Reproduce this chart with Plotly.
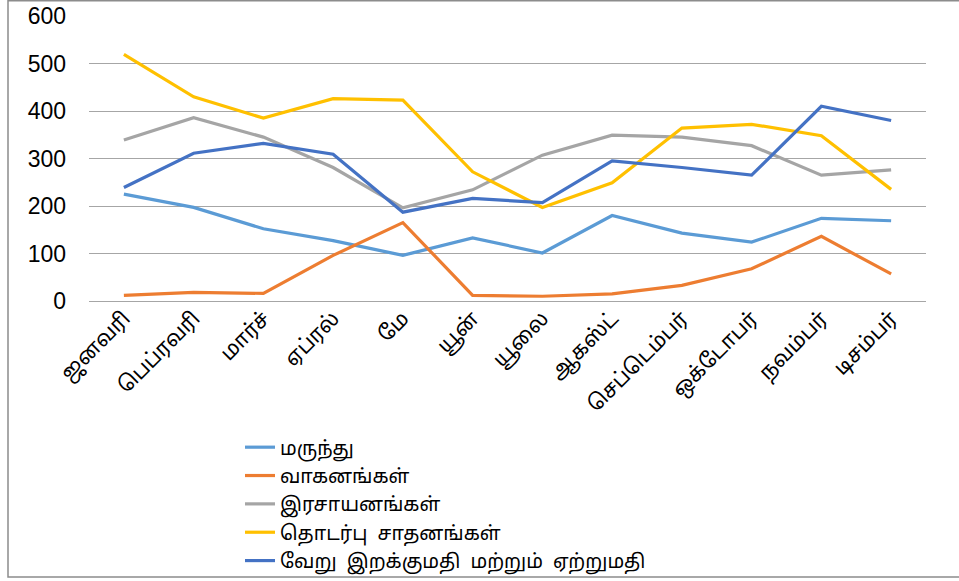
import plotly.graph_objects as go

months = ["ஜனவரி", "பெப்ரவரி", "மார்ச்", "ஏப்ரல்", "மே", "யூன்", "யூலை",
          "ஆகஸ்ட்", "செப்டெம்பர்", "ஒக்டோபர்", "நவம்பர்", "டிசம்பர்"]

marunthu = [225, 197, 152, 127, 96, 133, 101, 180, 143, 124, 174, 169]
vahanangal = [12, 18, 16, 96, 165, 12, 10, 15, 33, 68, 136, 57]
irasayanangal = [339, 386, 345, 281, 196, 234, 307, 349, 345, 327, 265, 276]
thodarpu = [519, 430, 385, 426, 423, 272, 197, 249, 364, 372, 348, 235]
veru = [239, 311, 332, 309, 187, 216, 207, 295, 281, 265, 410, 380]

series = [
    ("மருந்து", marunthu, "#5B9BD5"),
    ("வாகனங்கள்", vahanangal, "#ED7D31"),
    ("இரசாயனங்கள்", irasayanangal, "#A5A5A5"),
    ("தொடர்பு  சாதனங்கள்", thodarpu, "#FFC000"),
    ("வேறு  இறக்குமதி  மற்றும்  ஏற்றுமதி", veru, "#4472C4"),
]

FONT = "Noto Sans Tamil, Latha, Liberation Sans, Arial, sans-serif"

fig = go.Figure()
for name, vals, color in series:
    fig.add_trace(go.Scatter(
        x=months, y=vals, name=name, mode="lines",
        line=dict(color=color, width=3.2),
    ))

W, H = 959, 581
L, R, T, B = 89, 33, 16, 280
pw, ph = W - L - R, H - T - B

def px_to_paper_x(px):
    return (px - L) / pw

def px_to_paper_y(py):
    return (H - B - py) / ph

fig.update_layout(
    width=W, height=H,
    margin=dict(l=L, r=R, t=T, b=B, autoexpand=False),
    paper_bgcolor="white", plot_bgcolor="white",
    font=dict(family=FONT, color="black"),
    showlegend=True,
    legend=dict(
        xref="container", yref="container",
        x=240 / W, y=1 - 428 / H,
        xanchor="left", yanchor="top",
        font=dict(size=19.5, family=FONT, color="black"),
        tracegroupgap=0, bgcolor="rgba(0,0,0,0)",
    ),
    xaxis=dict(
        type="category", range=[-0.5, 11.5], automargin=False,
        tickangle=-45, tickfont=dict(size=21, family=FONT, color="black"),
        showgrid=False, showline=False, ticks="",
    ),
    yaxis=dict(
        range=[0, 600], dtick=100, automargin=False,
        showgrid=True, gridcolor="#A6A6A6", gridwidth=1.3,
        zeroline=True, zerolinecolor="#A6A6A6", zerolinewidth=1.3,
        showline=False, ticks="",
        tickfont=dict(size=23, family="Liberation Sans, Arial, sans-serif", color="black"),
        ticklabelstandoff=22,
    ),
    shapes=[dict(
        type="rect", xref="paper", yref="paper",
        x0=px_to_paper_x(8), x1=px_to_paper_x(975),
        y0=px_to_paper_y(577), y1=px_to_paper_y(0.7),
        line=dict(color="#8C8C8C", width=1.5), fillcolor="rgba(0,0,0,0)",
        layer="below",
    )],
)

fig.write_html(
    "out.html",
    config={"displayModeBar": False},
    post_script="document.body.style.margin='0';document.body.style.overflow='hidden';",
)
